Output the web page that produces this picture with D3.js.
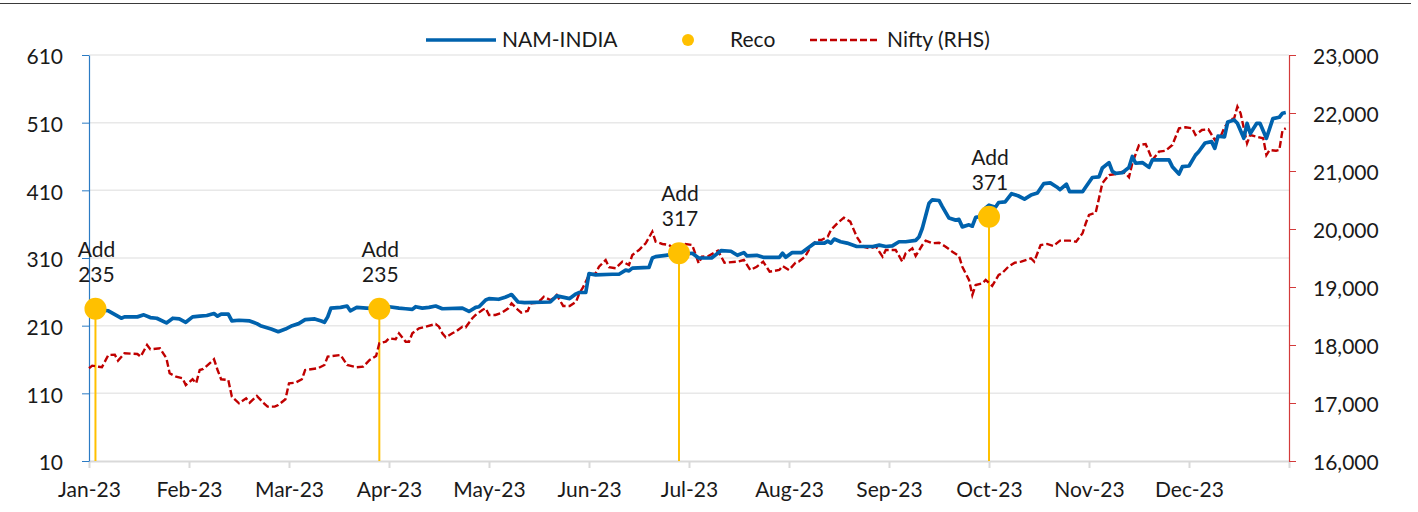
<!DOCTYPE html>
<html>
<head>
<meta charset="utf-8">
<script src="https://cdn.jsdelivr.net/npm/d3@7"></script>
<style>
  body { margin: 0; background: #fff; }
  svg { display: block; font-family: Lato, "Open Sans", sans-serif; }
  .axis text { font-size: 21px; fill: #1a1a1a; font-family: Lato, sans-serif; }
</style>
</head>
<body>
<div id="chart"></div>
<script>
// month categories on the x axis
const months = ["Jan-23", "Feb-23", "Mar-23", "Apr-23", "May-23", "Jun-23",
  "Jul-23", "Aug-23", "Sep-23", "Oct-23", "Nov-23", "Dec-23", ""];
const monthStarts = ["2023-01-01", "2023-02-01", "2023-03-01", "2023-04-01", "2023-05-01", "2023-06-01",
  "2023-07-01", "2023-08-01", "2023-09-01", "2023-10-01", "2023-11-01", "2023-12-01", "2024-01-01"];

const leftTicks = [10, 110, 210, 310, 410, 510, 610];
const rightTicks = [16000, 17000, 18000, 19000, 20000, 21000, 22000, 23000];

// NAM-INDIA share price (LHS)
const namIndia = [
  ["2023-01-02", 234], ["2023-01-07", 232], ["2023-01-11", 221], ["2023-01-12", 223], ["2023-01-16", 223],
  ["2023-01-18", 226], ["2023-01-20", 222], ["2023-01-22", 221], ["2023-01-25", 214], ["2023-01-27", 221],
  ["2023-01-29", 220], ["2023-01-31", 215], ["2023-02-02", 223], ["2023-02-04", 224], ["2023-02-06", 225],
  ["2023-02-08", 228], ["2023-02-09", 224], ["2023-02-10", 227], ["2023-02-12", 227], ["2023-02-13", 217],
  ["2023-02-15", 218], ["2023-02-18", 217], ["2023-02-20", 213], ["2023-02-21", 210], ["2023-02-24", 205],
  ["2023-02-26", 201], ["2023-02-28", 205], ["2023-03-02", 210], ["2023-03-04", 213], ["2023-03-06", 219],
  ["2023-03-09", 220], ["2023-03-11", 217], ["2023-03-12", 215], ["2023-03-13", 223], ["2023-03-14", 236],
  ["2023-03-17", 237], ["2023-03-19", 239], ["2023-03-20", 232], ["2023-03-22", 237], ["2023-03-25", 236],
  ["2023-03-29", 235], ["2023-04-01", 238], ["2023-04-04", 236], ["2023-04-06", 235], ["2023-04-08", 234],
  ["2023-04-09", 238], ["2023-04-11", 236], ["2023-04-13", 237], ["2023-04-15", 239], ["2023-04-17", 235],
  ["2023-04-23", 236], ["2023-04-25", 231], ["2023-04-27", 237], ["2023-04-28", 238], ["2023-04-30", 248],
  ["2023-05-01", 250], ["2023-05-04", 249], ["2023-05-06", 252], ["2023-05-08", 256], ["2023-05-10", 245],
  ["2023-05-12", 244], ["2023-05-20", 245], ["2023-05-22", 254], ["2023-05-26", 250], ["2023-05-28", 257],
  ["2023-05-29", 259], ["2023-05-31", 259], ["2023-06-01", 287], ["2023-06-03", 285], ["2023-06-08", 286],
  ["2023-06-10", 286], ["2023-06-12", 292], ["2023-06-13", 291], ["2023-06-14", 295], ["2023-06-19", 296],
  ["2023-06-20", 310], ["2023-06-21", 312], ["2023-06-24", 314], ["2023-06-28", 317], ["2023-06-30", 316],
  ["2023-07-02", 317], ["2023-07-04", 310], ["2023-07-08", 310], ["2023-07-11", 321], ["2023-07-14", 320],
  ["2023-07-16", 314], ["2023-07-18", 318], ["2023-07-19", 313], ["2023-07-22", 314], ["2023-07-24", 311],
  ["2023-07-29", 311], ["2023-07-30", 317], ["2023-07-31", 311], ["2023-08-02", 318], ["2023-08-05", 318],
  ["2023-08-09", 332], ["2023-08-12", 332], ["2023-08-13", 335], ["2023-08-14", 332], ["2023-08-15", 338],
  ["2023-08-17", 334], ["2023-08-19", 332], ["2023-08-22", 327], ["2023-08-27", 327], ["2023-08-29", 329],
  ["2023-08-31", 327], ["2023-09-02", 328], ["2023-09-04", 334], ["2023-09-06", 334], ["2023-09-09", 336],
  ["2023-09-10", 341], ["2023-09-11", 354], ["2023-09-13", 391], ["2023-09-14", 396], ["2023-09-16", 395],
  ["2023-09-17", 386], ["2023-09-19", 369], ["2023-09-21", 366], ["2023-09-22", 367], ["2023-09-23", 356],
  ["2023-09-25", 359], ["2023-09-26", 357], ["2023-09-27", 370], ["2023-09-28", 371], ["2023-09-30", 384],
  ["2023-10-01", 388], ["2023-10-03", 385], ["2023-10-04", 392], ["2023-10-06", 393], ["2023-10-08", 405],
  ["2023-10-10", 402], ["2023-10-12", 397], ["2023-10-14", 403], ["2023-10-16", 406], ["2023-10-18", 420],
  ["2023-10-20", 421], ["2023-10-22", 415], ["2023-10-23", 411], ["2023-10-25", 419], ["2023-10-26", 408],
  ["2023-10-30", 408], ["2023-10-31", 415], ["2023-11-02", 429], ["2023-11-04", 430], ["2023-11-05", 443],
  ["2023-11-07", 451], ["2023-11-08", 438], ["2023-11-09", 435], ["2023-11-11", 436], ["2023-11-13", 444],
  ["2023-11-14", 460], ["2023-11-15", 450], ["2023-11-17", 451], ["2023-11-19", 444], ["2023-11-20", 455],
  ["2023-11-25", 455], ["2023-11-26", 445], ["2023-11-28", 434], ["2023-11-29", 445], ["2023-12-01", 446],
  ["2023-12-03", 462], ["2023-12-04", 467], ["2023-12-06", 480], ["2023-12-08", 482], ["2023-12-09", 472],
  ["2023-12-10", 490], ["2023-12-12", 489], ["2023-12-13", 511], ["2023-12-15", 514], ["2023-12-16", 509],
  ["2023-12-18", 487], ["2023-12-19", 509], ["2023-12-20", 494], ["2023-12-22", 509], ["2023-12-23", 509],
  ["2023-12-25", 487], ["2023-12-27", 516], ["2023-12-29", 518], ["2023-12-30", 524], ["2023-12-31", 525]
];

// Nifty index (RHS)
const nifty = [
  ["2023-01-01", 17599], ["2023-01-02", 17644], ["2023-01-04", 17626], ["2023-01-05", 17616], ["2023-01-07", 17828],
  ["2023-01-09", 17833], ["2023-01-10", 17730], ["2023-01-12", 17857], ["2023-01-16", 17845], ["2023-01-17", 17799],
  ["2023-01-19", 18000], ["2023-01-20", 17926], ["2023-01-23", 17943], ["2023-01-25", 17771], ["2023-01-26", 17512],
  ["2023-01-28", 17454], ["2023-01-30", 17426], ["2023-01-31", 17310], ["2023-02-02", 17409], ["2023-02-03", 17340],
  ["2023-02-04", 17569], ["2023-02-05", 17587], ["2023-02-07", 17695], ["2023-02-08", 17754], ["2023-02-09", 17569],
  ["2023-02-10", 17409], ["2023-02-12", 17397], ["2023-02-13", 17109], ["2023-02-15", 16995], ["2023-02-17", 17081],
  ["2023-02-18", 17006], ["2023-02-20", 17121], ["2023-02-22", 16995], ["2023-02-23", 16937], ["2023-02-25", 16937],
  ["2023-02-26", 16966], ["2023-02-28", 17064], ["2023-03-01", 17340], ["2023-03-03", 17350], ["2023-03-05", 17409],
  ["2023-03-06", 17569], ["2023-03-10", 17599], ["2023-03-12", 17656], ["2023-03-13", 17799], ["2023-03-17", 17828],
  ["2023-03-19", 17656], ["2023-03-22", 17616], ["2023-03-24", 17626], ["2023-03-26", 17742], ["2023-03-28", 17811],
  ["2023-03-29", 18030], ["2023-03-31", 18057], ["2023-04-01", 18116], ["2023-04-03", 18099], ["2023-04-04", 18202],
  ["2023-04-06", 18057], ["2023-04-07", 18057], ["2023-04-08", 18202], ["2023-04-10", 18288], ["2023-04-12", 18316],
  ["2023-04-15", 18362], ["2023-04-16", 18316], ["2023-04-17", 18202], ["2023-04-18", 18133], ["2023-04-20", 18202],
  ["2023-04-21", 18230], ["2023-04-23", 18316], ["2023-04-24", 18305], ["2023-04-26", 18461], ["2023-04-27", 18518],
  ["2023-04-29", 18604], ["2023-04-30", 18633], ["2023-05-01", 18518], ["2023-05-03", 18518], ["2023-05-05", 18557],
  ["2023-05-07", 18633], ["2023-05-08", 18719], ["2023-05-10", 18604], ["2023-05-11", 18557], ["2023-05-13", 18587],
  ["2023-05-14", 18719], ["2023-05-16", 18730], ["2023-05-17", 18776], ["2023-05-18", 18833], ["2023-05-20", 18776],
  ["2023-05-21", 18805], ["2023-05-22", 18862], ["2023-05-24", 18673], ["2023-05-26", 18673], ["2023-05-28", 18747],
  ["2023-05-29", 18892], ["2023-05-30", 18978], ["2023-05-31", 19092], ["2023-06-01", 19207], ["2023-06-03", 19236],
  ["2023-06-04", 19350], ["2023-06-06", 19466], ["2023-06-07", 19340], ["2023-06-09", 19323], ["2023-06-11", 19437],
  ["2023-06-13", 19380], ["2023-06-14", 19552], ["2023-06-16", 19638], ["2023-06-18", 19754], ["2023-06-20", 19954],
  ["2023-06-21", 19781], ["2023-06-23", 19742], ["2023-06-25", 19724], ["2023-06-27", 19638], ["2023-06-29", 19650],
  ["2023-06-30", 19740], ["2023-07-02", 19724], ["2023-07-04", 19409], ["2023-07-05", 19523], ["2023-07-07", 19535],
  ["2023-07-10", 19626], ["2023-07-12", 19419], ["2023-07-16", 19437], ["2023-07-18", 19466], ["2023-07-20", 19293],
  ["2023-07-22", 19350], ["2023-07-24", 19437], ["2023-07-26", 19264], ["2023-07-29", 19293], ["2023-07-30", 19362],
  ["2023-08-01", 19293], ["2023-08-03", 19419], ["2023-08-04", 19437], ["2023-08-06", 19523], ["2023-08-08", 19724],
  ["2023-08-10", 19811], ["2023-08-11", 19811], ["2023-08-13", 19867], ["2023-08-14", 19983], ["2023-08-16", 20099],
  ["2023-08-18", 20195], ["2023-08-20", 20126], ["2023-08-22", 19867], ["2023-08-24", 19695], ["2023-08-26", 19667],
  ["2023-08-28", 19695], ["2023-08-30", 19523], ["2023-08-31", 19638], ["2023-09-03", 19638], ["2023-09-05", 19437],
  ["2023-09-06", 19581], ["2023-09-08", 19667], ["2023-09-09", 19535], ["2023-09-11", 19724], ["2023-09-12", 19799],
  ["2023-09-14", 19754], ["2023-09-16", 19764], ["2023-09-18", 19695], ["2023-09-20", 19609], ["2023-09-22", 19535],
  ["2023-09-23", 19350], ["2023-09-25", 19121], ["2023-09-26", 18862], ["2023-09-27", 19035], ["2023-09-29", 19064],
  ["2023-09-30", 19121], ["2023-10-02", 19018], ["2023-10-04", 19207], ["2023-10-05", 19236], ["2023-10-07", 19350],
  ["2023-10-09", 19419], ["2023-10-11", 19437], ["2023-10-14", 19495], ["2023-10-15", 19437], ["2023-10-17", 19724],
  ["2023-10-19", 19742], ["2023-10-21", 19707], ["2023-10-23", 19799], ["2023-10-26", 19799], ["2023-10-28", 19781],
  ["2023-10-30", 19926], ["2023-10-31", 20099], ["2023-11-01", 20242], ["2023-11-03", 20281], ["2023-11-04", 20529],
  ["2023-11-05", 20788], ["2023-11-07", 20931], ["2023-11-09", 20948], ["2023-11-11", 20988], ["2023-11-12", 20960],
  ["2023-11-13", 20892], ["2023-11-14", 21133], ["2023-11-16", 21448], ["2023-11-18", 21466], ["2023-11-19", 21333],
  ["2023-11-20", 21190], ["2023-11-22", 21333], ["2023-11-24", 21350], ["2023-11-26", 21448], ["2023-11-28", 21736],
  ["2023-11-30", 21754], ["2023-12-02", 21736], ["2023-12-03", 21621], ["2023-12-05", 21707], ["2023-12-07", 21719],
  ["2023-12-09", 21535], ["2023-12-11", 21621], ["2023-12-12", 21754], ["2023-12-14", 21892], ["2023-12-15", 21909],
  ["2023-12-16", 22109], ["2023-12-17", 21995], ["2023-12-18", 21736], ["2023-12-19", 21478], ["2023-12-20", 21621],
  ["2023-12-22", 21592], ["2023-12-24", 21564], ["2023-12-25", 21276], ["2023-12-26", 21362], ["2023-12-28", 21350],
  ["2023-12-29", 21362], ["2023-12-30", 21707], ["2023-12-31", 21736]
];

// recommendations
const recoDates = ["2023-01-03", "2023-03-29", "2023-06-28", "2023-10-01"];
const recoPrices = [235, 235, 317, 371];
const recoCalls = ["Add", "Add", "Add", "Add"];

const parse = d3.timeParse("%Y-%m-%d");

let width = 1418, height = 512;
let plot = { left: 89, right: 1289, top: 55, bottom: 461 };

let svg = d3.select("#chart").append("svg")
  .attr("width", width)
  .attr("height", height);

svg.append("rect").attr("width", width).attr("height", height).attr("fill", "#fff");

// thin rule along the top
svg.append("line")
  .attr("x1", 0).attr("x2", 1411)
  .attr("y1", 3.5).attr("y2", 3.5)
  .attr("stroke", "#3a3a3a").attr("stroke-width", 1.2);

// months are evenly spaced on the axis
let monthDates = monthStarts.map(parse);
let xScale = d3.scaleTime()
  .domain(monthDates)
  .range(monthDates.map((d, i) => plot.left + i * (plot.right - plot.left) / 12));
let yLeft = d3.scaleLinear().domain([10, 610]).range([plot.bottom, plot.top]);
let yRight = d3.scaleLinear().domain([16000, 23000]).range([plot.bottom, plot.top]);

// gridlines
svg.append("g")
  .selectAll("line")
  .data(leftTicks.slice(1))
  .enter().append("line")
  .attr("x1", plot.left).attr("x2", plot.right)
  .attr("y1", d => yLeft(d)).attr("y2", d => yLeft(d))
  .attr("stroke", "#e8e8e8").attr("stroke-width", 1.5);

// x axis
let xAxis = d3.axisBottom(xScale)
  .tickValues(monthDates)
  .tickFormat((d, i) => months[i])
  .tickSize(7).tickSizeOuter(0).tickPadding(14);
let gx = svg.append("g")
  .attr("class", "axis x")
  .attr("transform", "translate(0," + plot.bottom + ")")
  .call(xAxis);
gx.select(".domain").attr("stroke", "#d9d9d9").attr("stroke-width", 2);
gx.selectAll(".tick line").attr("stroke", "#d9d9d9").attr("stroke-width", 2);

// left axis
let gl = svg.append("g")
  .attr("class", "axis y-left")
  .attr("transform", "translate(" + plot.left + ",0)")
  .call(d3.axisLeft(yLeft).tickValues(leftTicks).tickSize(7).tickSizeOuter(0).tickPadding(19));
gl.select(".domain").attr("stroke", "#2b7bc4").attr("stroke-width", 1.2);
gl.selectAll(".tick line").attr("stroke", "#2b7bc4");
gl.selectAll(".tick text").attr("dy", "0.42em");

// right axis
let gr = svg.append("g")
  .attr("class", "axis y-right")
  .attr("transform", "translate(" + plot.right + ",0)")
  .call(d3.axisRight(yRight).tickValues(rightTicks).tickFormat(d3.format(",")).tickSize(7).tickSizeOuter(0).tickPadding(17));
gr.select(".domain").attr("stroke", "#d33a3a").attr("stroke-width", 1.2);
gr.selectAll(".tick line").attr("stroke", "#d33a3a");
gr.selectAll(".tick text").attr("dy", "0.42em");

// reco stems
let reco = recoDates.map((d, i) => ({ date: parse(d), price: recoPrices[i], call: recoCalls[i] }));
svg.append("g")
  .selectAll("line")
  .data(reco)
  .enter().append("line")
  .attr("x1", d => xScale(d.date)).attr("x2", d => xScale(d.date))
  .attr("y1", d => yLeft(d.price)).attr("y2", plot.bottom)
  .attr("stroke", "#ffc000").attr("stroke-width", 2);

// Nifty dashed line
let niftyLine = d3.line()
  .x(d => xScale(parse(d[0])))
  .y(d => yRight(d[1]));
svg.append("path")
  .datum(nifty)
  .attr("d", niftyLine)
  .attr("fill", "none")
  .attr("stroke", "#c00000")
  .attr("stroke-width", 2.4)
  .attr("stroke-dasharray", "7,3");

// NAM-INDIA line
let namLine = d3.line()
  .x(d => xScale(parse(d[0])))
  .y(d => yLeft(d[1]));
svg.append("path")
  .datum(namIndia)
  .attr("d", namLine)
  .attr("fill", "none")
  .attr("stroke", "#0062ad")
  .attr("stroke-width", 3.7)
  .attr("stroke-linejoin", "round");

// reco dots
svg.append("g")
  .selectAll("circle")
  .data(reco)
  .enter().append("circle")
  .attr("cx", d => xScale(d.date))
  .attr("cy", d => yLeft(d.price))
  .attr("r", 11)
  .attr("fill", "#ffc000");

// reco labels
let labels = svg.append("g")
  .selectAll("text")
  .data(reco)
  .enter().append("text")
  .attr("x", d => xScale(d.date) + 1)
  .attr("y", d => yLeft(d.price) - 52)
  .attr("text-anchor", "middle")
  .style("font-size", "21px")
  .attr("fill", "#1a1a1a");
labels.append("tspan").text(d => d.call);
labels.append("tspan")
  .attr("x", d => xScale(d.date) + 1)
  .attr("dy", 25)
  .text(d => d.price);

// legend
let legend = svg.append("g").style("font-size", "21px").attr("fill", "#1a1a1a");
legend.append("line")
  .attr("x1", 426).attr("x2", 496).attr("y1", 40).attr("y2", 40)
  .attr("stroke", "#0062ad").attr("stroke-width", 3.7);
legend.append("text").attr("x", 502).attr("y", 47).text("NAM-INDIA");
legend.append("circle").attr("cx", 688).attr("cy", 40).attr("r", 6).attr("fill", "#ffc000");
legend.append("text").attr("x", 730).attr("y", 47).text("Reco");
legend.append("line")
  .attr("x1", 810).attr("x2", 880).attr("y1", 40).attr("y2", 40)
  .attr("stroke", "#c00000").attr("stroke-width", 2.4).attr("stroke-dasharray", "7,3");
legend.append("text").attr("x", 887).attr("y", 47).text("Nifty (RHS)");
</script>
</body>
</html>
